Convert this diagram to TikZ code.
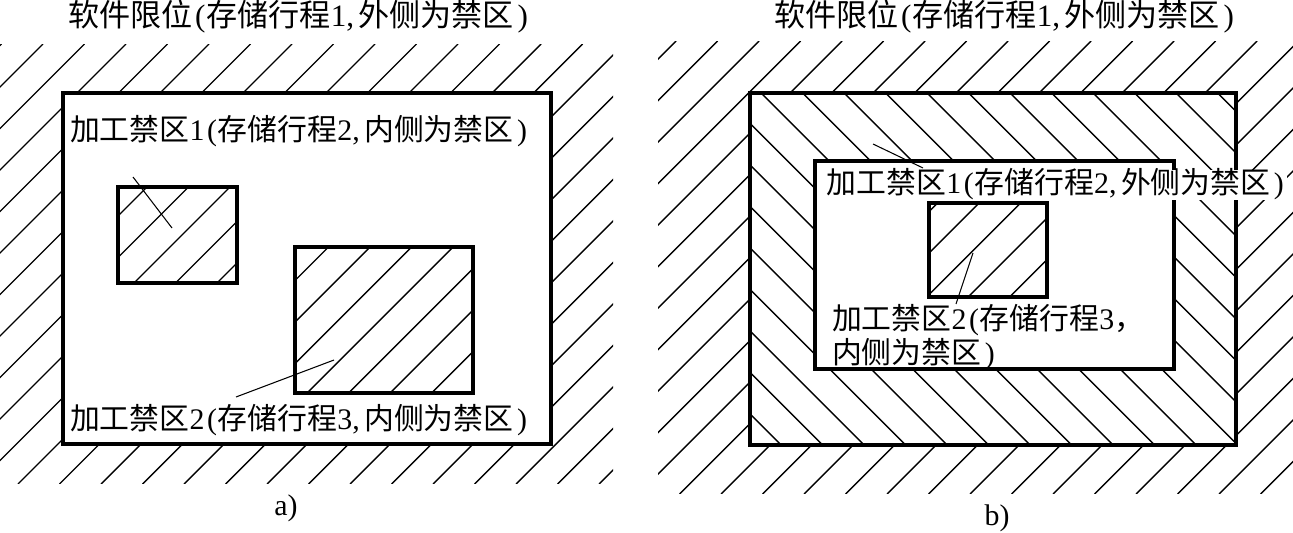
\documentclass[tikz,border=0pt]{standalone}
\usepackage{fontspec}
\setmainfont{Liberation Serif}
\newfontfamily\cj{Noto Sans CJK SC}
\newcommand\LP{\kern1.5pt(\kern0.5pt}
\newcommand\RP{\kern2pt)}
\newcommand\CM{,\kern2.5pt}
\tikzset{
  hatch/.style={line width=0.8pt},
  border/.style={line width=2pt},
  lbl/.style={inner sep=1pt, font=\fontsize{17}{16.5}\selectfont, anchor=west},
  ttl/.style={inner sep=1pt, font=\fontsize{17.7}{18}\selectfont, anchor=center},
  leader/.style={line width=0.6pt},
}
\newcommand\fhatch[5]{%
  \begin{scope}
    \clip (#1,#2) rectangle (#3,#4);
    \foreach \i in {0,...,46}{\pgfmathsetmacro\cc{#5+41.5*\i}\draw[hatch] (\cc-#2+1,#2-1) -- (\cc-#4-1,#4+1);}
  \end{scope}}
\newcommand\bhatch[5]{%
  \begin{scope}
    \clip (#1,#2) rectangle (#3,#4);
    \foreach \i in {-20,...,35}{\pgfmathsetmacro\cc{#5+41.5*\i}\draw[hatch] (\cc+#2-1,#2-1) -- (\cc+#4+1,#4+1);}
  \end{scope}}
\begin{document}
\begin{tikzpicture}[x=0.02cm,y=-0.02cm]
\useasboundingbox (0,0) rectangle (1293,533);
% ---------- panel a ----------
\node[ttl] (ta) at (298,17) {{\cj 软件限位}\LP{\cj 存储行程}1\CM{\cj 外侧为禁区}\RP};
\fhatch{0}{45}{613}{483}{4}
\draw[border,fill=white] (63,93) rectangle (551,444);
\fhatch{118}{187}{237}{283}{2}
\draw[border] (118,187) rectangle (237,283);
\fhatch{295}{247}{473}{393}{36}
\draw[border] (295,247) rectangle (473,393);
\node[lbl] (la1) at (68,131) {{\cj 加工禁区}1\LP{\cj 存储行程}2\CM{\cj 内侧为禁区}\RP};
\node[lbl] (la2) at (68,420) {{\cj 加工禁区}2\LP{\cj 存储行程}3\CM{\cj 内侧为禁区}\RP};
\coordinate (a1s) at (133,177);
\coordinate (a1e) at (172,228);
\draw[leader] (a1s) -- (a1e);
\coordinate (a2s) at (236,397);
\coordinate (a2e) at (334,360);
\draw[leader] (a2s) -- (a2e);
\node[lbl,anchor=center] (capa) at (286,508) {a)};
% ---------- panel b ----------
\node[ttl] (tb) at (1004,17) {{\cj 软件限位}\LP{\cj 存储行程}1\CM{\cj 外侧为禁区}\RP};
\fhatch{658}{42}{1293}{493}{11.5}
\draw[border,fill=white] (750,93) rectangle (1236,445);
\bhatch{750}{93}{1236}{445}{4}
\draw[border,fill=white] (815,161) rectangle (1174,369);
\fhatch{929}{203}{1047}{297}{20}
\draw[border] (929,203) rectangle (1047,297);
\node[lbl,fill=white,inner xsep=2pt,inner ysep=0.5pt,text height=13pt,text depth=3.5pt] (lb1) at (823,185) {{\cj 加工禁区}1\LP{\cj 存储行程}2\CM{\cj 外侧为禁区}\RP};
\node[lbl,align=left] (lb2) at (830,337) {{\cj 加工禁区}2\LP{\cj 存储行程}3{\cj ，}\\{\cj 内侧为禁区}\RP};
\coordinate (b1s) at (873,144);
\coordinate (b1e) at (923,168);
\draw[leader] (b1s) -- (b1e);
\coordinate (b2s) at (973,253);
\coordinate (b2e) at (956,304);
\draw[leader] (b2s) -- (b2e);
\node[lbl,anchor=center] (capb) at (997,518) {b)};
\end{tikzpicture}
\end{document}
